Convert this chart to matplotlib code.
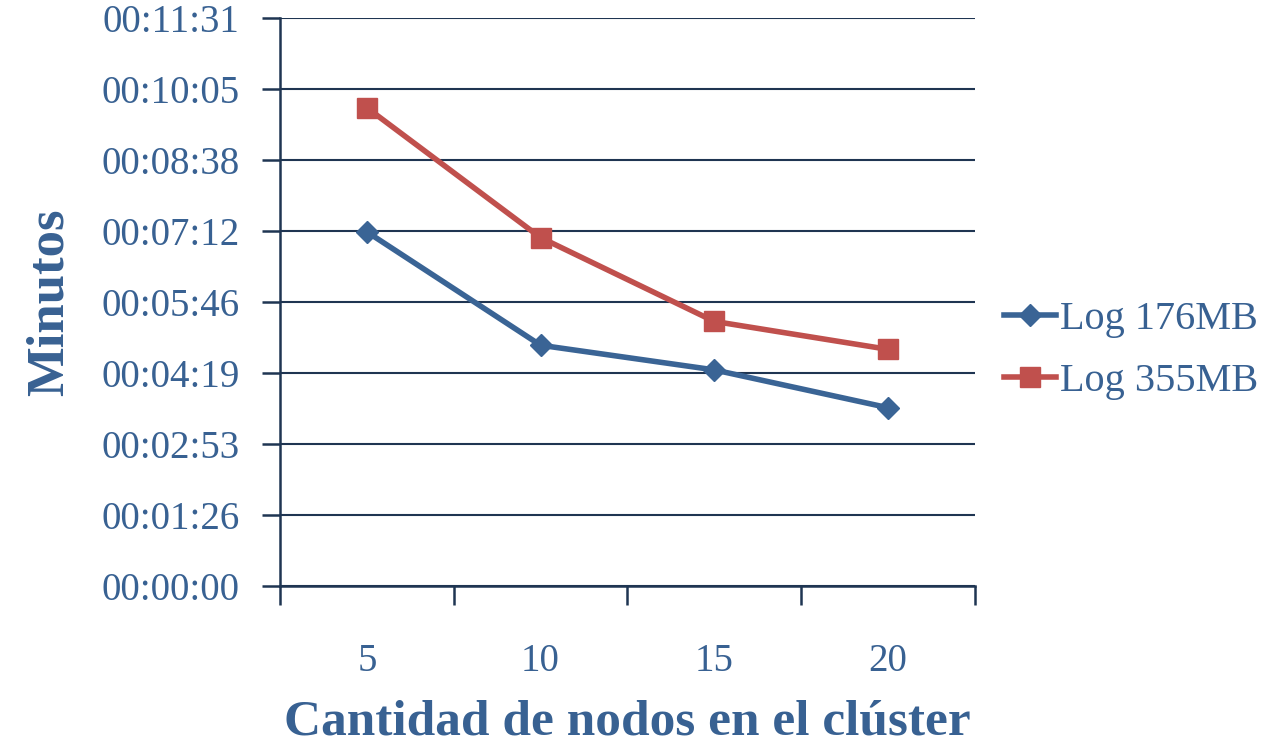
import matplotlib.pyplot as plt
from matplotlib.ticker import FuncFormatter, MultipleLocator

# Datos (segundos)
nodos = ["5", "10", "15", "20"]
log_176 = [431, 293, 263, 217]
log_355 = [582, 424, 322, 288]

color_texto = "#386192"
azul = "#3A6495"
rojo = "#C0504D"
eje = "#1F3552"

plt.rcParams['font.family'] = ['Liberation Serif', 'DejaVu Serif']


def hms(v, pos):
    s = int(round(v))
    return "%02d:%02d:%02d" % (s // 3600, (s % 3600) // 60, s % 60)


fig = plt.figure(figsize=(12.7, 7.49), dpi=100)
ax = fig.add_axes([0.2205, 0.2176, 0.547, 0.7584])

x = range(len(nodos))
ax.plot(x, log_176, color=azul, lw=4, marker="D", ms=11, label="Log 176MB")
ax.plot(x, log_355, color=rojo, lw=4, marker="s", ms=15, label="Log 355MB")

ax.set_xlim(-0.5, len(nodos) - 0.5)
ax.set_ylim(0, 691.2)
ax.yaxis.set_major_locator(MultipleLocator(86.4))
ax.yaxis.set_major_formatter(FuncFormatter(hms))
ax.set_xticks([i - 0.5 for i in range(len(nodos) + 1)], minor=False)
ax.set_xticklabels([])
ax.set_xticks(list(x), minor=True)
ax.set_xticklabels(nodos, minor=True)

ax.grid(axis="y", color=eje, lw=1.5)
ax.set_axisbelow(True)
for side in ["top", "right"]:
    ax.spines[side].set_visible(False)
for side in ["left", "bottom"]:
    ax.spines[side].set_color(eje)
    ax.spines[side].set_linewidth(1.8)

ax.tick_params(axis="y", which="major", length=13, width=1.8, color=eje,
               labelsize=28, labelcolor=color_texto, pad=16)
ax.tick_params(axis="x", which="major", length=14, width=1.8, color=eje, direction="out")
ax.tick_params(axis="x", which="minor", length=0, labelsize=28,
               labelcolor=color_texto, pad=41)

ax.set_xlabel("Cantidad de nodos en el clúster", fontsize=37, fontweight="bold",
              color=color_texto, labelpad=14)
ax.set_ylabel("Minutos", fontsize=38, fontweight="bold", color=color_texto, labelpad=20)

leg = ax.legend(loc="center left", bbox_to_anchor=(0.99, 0.415), frameon=False,
                fontsize=29, handlelength=1.3, handletextpad=0.08, labelspacing=0.62,
                labelcolor=color_texto)

fig.savefig("out.png", dpi=100)
